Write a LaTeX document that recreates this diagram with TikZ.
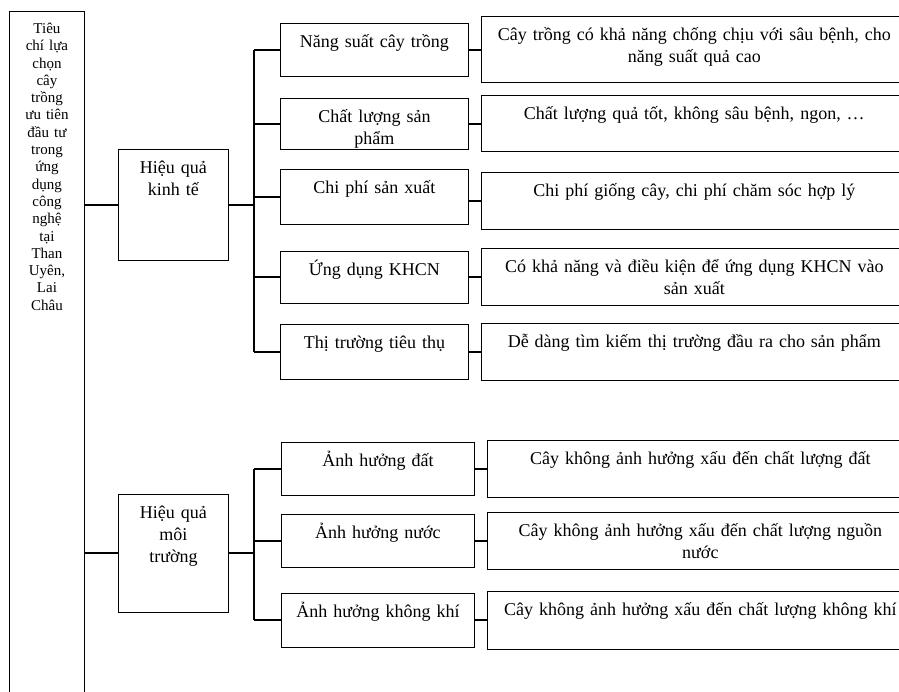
\documentclass[tikz,border=0pt]{standalone}
\usepackage{fontspec}
\setmainfont{Liberation Serif}
\usetikzlibrary{positioning}

\begin{document}
\begin{tikzpicture}[x=1pt, y=-1pt,
        box/.style = {draw, black, line width=0.9pt, align=center, inner xsep=4pt, inner ysep=0pt, text height=24pt, font=\fontsize{18}{22}\selectfont},
        group/.style = {box, anchor=north west, text width=102pt},
        crit/.style = {box, anchor=north west},
        desc/.style = {box, text width=418pt},
        branch/.style = {line width=2pt}
    ]
    \useasboundingbox (0,0) rectangle (899,692);
    \clip (0,0) rectangle (899,692);

    \node[box, anchor=north west, text width=67pt, text height=22pt, text depth=700pt, font=\fontsize{15}{17.3}\selectfont] (tieuchi) at (9,11) {Tiêu\\ chí lựa\\ chọn\\ cây\\ trồng\\ ưu tiên\\ đầu tư\\ trong\\ ứng\\ dụng\\ công\\ nghệ\\ tại\\ Than\\ Uyên,\\ Lai\\ Châu};

    \node[group, text depth=87pt] (kinhte) at (118,149) {Hiệu quả\\ kinh tế};
    \node[group, text depth=94pt] (moitruong) at (118,494) {Hiệu quả\\ môi\\ trường};

    \coordinate (bkt) at (254,0);

    % hieu qua kinh te
    \node[crit, text width=180pt, text depth=29pt] (nangsuat) at (280,23) {Năng suất cây trồng};
    \node[crit, text width=180pt, text depth=27pt] (chatluong) at (280,98) {Chất lượng sản\\ phẩm};
    \node[crit, text width=180pt, text depth=31pt] (chiphi) at (280,169) {Chi phí sản xuất};
    \node[crit, text width=180pt, text depth=28pt] (ungdung) at (280,251) {Ứng dụng KHCN};
    \node[crit, text width=180pt, text depth=31pt] (thitruong) at (280,324) {Thị trường tiêu thụ};

    \node[desc, right=12pt of nangsuat, text depth=42pt] (nangsuat-mt) {Cây trồng có khả năng chống chịu với sâu bệnh, cho\\ năng suất quả cao};
    \node[desc, right=12pt of chatluong, text depth=32pt] (chatluong-mt) {Chất lượng quả tốt, không sâu bệnh, ngon, …};
    \node[desc, right=12pt of chiphi, yshift=-4pt, text depth=33pt] (chiphi-mt) {Chi phí giống cây, chi phí chăm sóc hợp lý};
    \node[desc, right=12pt of ungdung, text depth=33pt] (ungdung-mt) {Có khả năng và điều kiện để ứng dụng KHCN vào\\ sản xuất};
    \node[desc, right=12pt of thitruong, text depth=32pt] (thitruong-mt) {Dễ dàng tìm kiếm thị trường đầu ra cho sản phẩm};

    % hieu qua moi truong
    \node[crit, text width=185pt, text depth=29pt] (dat) at (281,442) {Ảnh hưởng đất};
    \node[crit, text width=185pt, text depth=29pt] (nuoc) at (281,514) {Ảnh hưởng nước};
    \node[crit, text width=185pt, text depth=30pt] (khongkhi) at (281,593) {Ảnh hưởng không khí};

    \node[desc, right=12pt of dat, text depth=33pt] (dat-mt) {Cây không ảnh hưởng xấu đến chất lượng đất};
    \node[desc, right=12pt of nuoc, text depth=33pt] (nuoc-mt) {Cây không ảnh hưởng xấu đến chất lượng nguồn\\ nước};
    \node[desc, right=12pt of khongkhi, text depth=34pt] (khongkhi-mt) {Cây không ảnh hưởng xấu đến chất lượng không khí};

    \draw[branch] (tieuchi.east |- kinhte.west) -- (kinhte.west);
    \draw[branch] (tieuchi.east |- moitruong.west) -- (moitruong.west);
    \draw[branch] (kinhte.east) -- (kinhte.east -| bkt);
    \draw[branch] (moitruong.east) -- (moitruong.east -| bkt);
    \draw[branch] (bkt |- nangsuat.west) -- (bkt |- thitruong.west);
    \draw[branch] (bkt |- dat.west) -- (bkt |- khongkhi.west);

    \foreach \c in {nangsuat, chatluong, chiphi, ungdung, thitruong, dat, nuoc, khongkhi} {
        \draw[branch] (bkt |- \c.west) -- (\c.west);
        \draw[branch] (\c-mt.west -| \c.east) -- (\c-mt.west);
    }
\end{tikzpicture}
\end{document}
